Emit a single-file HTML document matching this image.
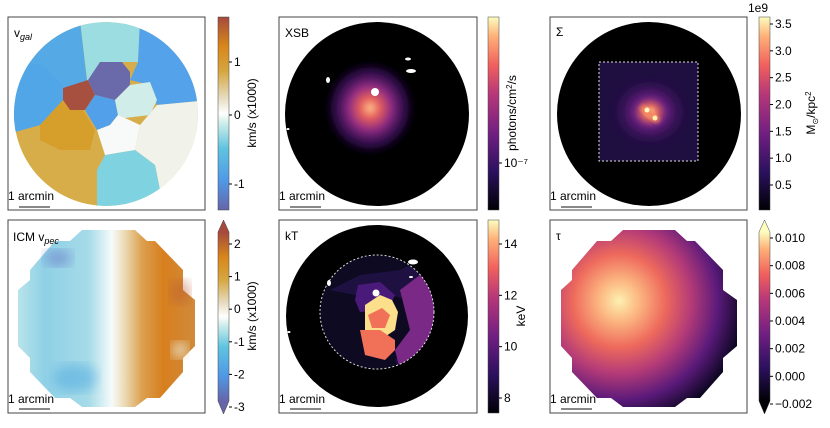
<!DOCTYPE html>
<html><head><meta charset="utf-8"><style>
body{margin:0;background:#fff;}
svg{display:block;font-family:"Liberation Sans","DejaVu Sans",sans-serif;}
text{font-size:12px;fill:#000;}
</style></head><body>
<svg id="fig" width="830" height="428" viewBox="0 0 830 428">
<defs>
<linearGradient id="cmVel" x1="0" y1="1" x2="0" y2="0">
<stop offset="0" stop-color="#6665a8"/><stop offset="0.15" stop-color="#4f98e6"/><stop offset="0.32" stop-color="#5fc4e0"/><stop offset="0.45" stop-color="#cfeeea"/><stop offset="0.5" stop-color="#ffffff"/><stop offset="0.58" stop-color="#e6dcc0"/><stop offset="0.72" stop-color="#d6a63e"/><stop offset="0.85" stop-color="#d8861a"/><stop offset="1" stop-color="#a54a3c"/></linearGradient>
<linearGradient id="cmMag" x1="0" y1="1" x2="0" y2="0">
<stop offset="0" stop-color="#000004"/><stop offset="0.2" stop-color="#2c115f"/><stop offset="0.4" stop-color="#721f81"/><stop offset="0.6" stop-color="#b73779"/><stop offset="0.75" stop-color="#f1605d"/><stop offset="0.9" stop-color="#feb078"/><stop offset="1" stop-color="#fcfdbf"/></linearGradient>
<radialGradient id="xsbG" cx="0.5" cy="0.5" r="0.5">
<stop offset="0" stop-color="#fdc08a"/><stop offset="0.2" stop-color="#e65f5c"/><stop offset="0.45" stop-color="#8c2a82"/><stop offset="0.75" stop-color="#3a1060" stop-opacity="0.7"/><stop offset="1" stop-color="#000" stop-opacity="0"/></radialGradient>
<radialGradient id="sigG" cx="0.5" cy="0.5" r="0.5">
<stop offset="0" stop-color="#fff2b0"/><stop offset="0.15" stop-color="#f0705a"/><stop offset="0.4" stop-color="#6a1f80"/><stop offset="1" stop-color="#2a0f50" stop-opacity="0"/></radialGradient>
<radialGradient id="tauG" cx="0.33" cy="0.4" r="0.75">
<stop offset="0" stop-color="#fdf0b0"/><stop offset="0.15" stop-color="#fcb882"/><stop offset="0.35" stop-color="#ee6a5c"/><stop offset="0.55" stop-color="#b33a78"/><stop offset="0.75" stop-color="#5a1a7a"/><stop offset="0.95" stop-color="#0b0620"/></radialGradient>
<linearGradient id="icmG" x1="0" y1="0" x2="1" y2="0">
<stop offset="0" stop-color="#b8e4ea"/><stop offset="0.15" stop-color="#8fd0e6"/><stop offset="0.4" stop-color="#a6dbe8"/><stop offset="0.53" stop-color="#f5fbfb"/><stop offset="0.6" stop-color="#ecdcb8"/><stop offset="0.7" stop-color="#dca050"/><stop offset="0.82" stop-color="#d77f1e"/><stop offset="1" stop-color="#d08a3a"/></linearGradient>
<clipPath id="c1"><circle cx="106" cy="114" r="92"/></clipPath>
<clipPath id="c5"><circle cx="377" cy="312" r="57"/></clipPath>
<filter id="bl"><feGaussianBlur stdDeviation="6"/></filter>
<filter id="bl2"><feGaussianBlur stdDeviation="2"/></filter>
</defs>

<g>
<rect x="8" y="17" width="197" height="193" fill="#fff" stroke="#444"/>
<g clip-path="url(#c1)">
<circle cx="106" cy="114" r="92" fill="#d7ad4a"/>
<polygon points="0,0 80,20 88,90 63,100 40,125 15,132 0,132" fill="#55aae6"/>
<polygon points="0,60 43,65 62,85 63,100 40,125 15,132 0,132" fill="#50a6e6"/>
<polygon points="80,20 140,20 138,62 122,62 100,62 88,88" fill="#9bdde0"/>
<polygon points="138,62 140,20 210,20 210,100 157,105 150,85 130,80" fill="#53a2ea"/>
<polygon points="157,105 210,100 210,210 160,190 155,165 135,150 140,125" fill="#f1f2ea"/>
<polygon points="105,155 135,150 155,165 160,190 150,210 97,210 97,170" fill="#7fd3e0"/>
<polygon points="40,125 63,100 83,110 95,130 90,150 60,150 40,140" fill="#d69f2c"/>
<polygon points="63,88 88,80 95,95 85,110 70,110 63,100" fill="#a85040"/>
<polygon points="88,80 100,62 122,62 130,72 130,85 115,100 95,95" fill="#6a6aaa"/>
<polygon points="85,110 95,95 115,100 118,115 110,125 97,130" fill="#52a0ea"/>
<polygon points="115,100 130,85 150,82 157,100 150,115 125,118 118,115" fill="#d1ede9"/>
<polygon points="97,130 110,125 118,115 125,118 140,125 135,150 105,155" fill="#f8faf9"/>
</g>
<text x="14" y="37" font-size="13">v<tspan font-size="9" font-style="italic" dy="3">gal</tspan></text>
</g>

<g>
<rect x="279" y="17" width="198" height="193" fill="#fff" stroke="#444"/>
<circle cx="377" cy="114" r="92" fill="#000"/>
<ellipse cx="370" cy="108" rx="48" ry="50" fill="url(#xsbG)" filter="url(#bl2)"/>
<ellipse cx="375" cy="92" rx="4" ry="4" fill="#fff"/>
<ellipse cx="411" cy="71" rx="5" ry="2" fill="#fff"/>
<ellipse cx="408" cy="59" rx="3" ry="1.5" fill="#fff"/>
<ellipse cx="328" cy="80" rx="2" ry="3" fill="#fff"/>
<ellipse cx="288" cy="129" rx="1.5" ry="1" fill="#fff"/>
<text x="285" y="37" font-size="13">XSB</text>
</g>

<g>
<rect x="550" y="17" width="197" height="193" fill="#fff" stroke="#444"/>
<circle cx="649" cy="114" r="92" fill="#000"/>
<rect x="599" y="62" width="99" height="99" fill="#1f0e40"/>
<ellipse cx="650" cy="112" rx="40" ry="36" fill="url(#sigG)" filter="url(#bl2)"/>
<ellipse cx="650" cy="114" rx="12" ry="4" transform="rotate(40 650 114)" fill="#f58860" filter="url(#bl2)"/>
<circle cx="647" cy="110" r="2.5" fill="#fff6c0"/><circle cx="655" cy="118" r="2.5" fill="#fff0b0"/>
<rect x="599" y="62" width="99" height="99" fill="none" stroke="#ddd" stroke-dasharray="2,2"/>
<text x="556" y="36" font-size="13">Σ</text>
</g>

<g>
<rect x="8" y="220" width="197" height="193" fill="#fff" stroke="#444"/>
<polygon points="82,230 135,230 147,241 155,241 183,270 183,290 195,300 195,346 183,358 183,372 160,398 147,398 135,407 82,407 70,398 55,398 30,372 30,358 18,346 18,290 30,280 30,270 55,241 70,241" fill="url(#icmG)"/>
<ellipse cx="58" cy="258" rx="14" ry="8" fill="#6a78c8" opacity="0.6" filter="url(#bl)"/>
<ellipse cx="75" cy="378" rx="22" ry="14" fill="#4aa6e0" opacity="0.5" filter="url(#bl)"/>
<ellipse cx="180" cy="292" rx="10" ry="12" fill="#b95a30" opacity="0.5" filter="url(#bl)"/>
<ellipse cx="180" cy="350" rx="8" ry="8" fill="#e8dcc0" filter="url(#bl)"/>
<text x="13" y="241" font-size="13">ICM v<tspan font-size="9" font-style="italic" dy="3">pec</tspan></text>
</g>

<g>
<rect x="279" y="220" width="198" height="193" fill="#fff" stroke="#444"/>
<circle cx="377" cy="316" r="91" fill="#000"/>
<g clip-path="url(#c5)">
<circle cx="377" cy="312" r="57" fill="#0d0a22"/>
<polygon points="330,290 360,275 400,270 420,260 440,280 440,370 400,370 395,360 415,340 410,300 390,295 355,295" fill="#1e1040"/>
<polygon points="400,290 420,275 440,280 440,370 400,370 395,350 410,330" fill="#7a2a86"/>
<polygon points="358,285 380,282 395,295 388,310 360,312 355,300" fill="#4a1a7a"/>
<polygon points="365,305 380,295 392,300 398,312 395,330 380,340 365,330" fill="#fcdf8a"/>
<polygon points="360,330 380,330 395,340 395,350 385,360 365,355" fill="#f07058"/>
<polygon points="368,315 382,308 390,315 385,328 372,328" fill="#f07058"/>
</g>
<circle cx="377" cy="312" r="57" fill="none" stroke="#ddd" stroke-dasharray="2,2"/>
<circle cx="376" cy="293" r="3.5" fill="#fff"/>
<ellipse cx="413" cy="262" rx="5" ry="2.5" fill="#fff"/><ellipse cx="411" cy="277" rx="2" ry="1" fill="#fff"/>
<ellipse cx="329" cy="283" rx="2" ry="3" fill="#fff"/><ellipse cx="289" cy="332" rx="1.5" ry="1" fill="#fff"/>
<text x="285" y="240" font-size="13">kT</text>
</g>

<g>
<rect x="550" y="220" width="197" height="193" fill="#fff" stroke="#444"/>
<polygon points="623,230 675,230 687,241 695,241 723,270 723,290 737,300 737,346 723,358 723,372 700,398 687,398 675,407 623,407 611,398 597,398 572,372 572,358 561,346 561,290 572,280 572,270 597,241 611,241" fill="url(#tauG)"/>
<text x="556" y="240" font-size="13">τ</text>
</g>

<g font-size="12">
<text x="8" y="200">1 arcmin</text><line x1="19" y1="207" x2="50" y2="207" stroke="#888" stroke-width="2"/>
<text x="279" y="200">1 arcmin</text><line x1="290" y1="207" x2="321" y2="207" stroke="#888" stroke-width="2"/>
<text x="550" y="200">1 arcmin</text><line x1="561" y1="207" x2="592" y2="207" stroke="#888" stroke-width="2"/>
<text x="8" y="403">1 arcmin</text><line x1="19" y1="409" x2="50" y2="409" stroke="#888" stroke-width="2"/>
<text x="279" y="403">1 arcmin</text><line x1="290" y1="409" x2="321" y2="409" stroke="#888" stroke-width="2"/>
<text x="550" y="403">1 arcmin</text><line x1="561" y1="409" x2="592" y2="409" stroke="#888" stroke-width="2"/>
</g>

<rect x="218" y="17" width="11" height="193" fill="url(#cmVel)" stroke="#444" stroke-width="0.5"/>
<rect x="488" y="17" width="11" height="193" fill="url(#cmMag)" stroke="#444" stroke-width="0.5"/>
<rect x="759" y="17" width="11" height="193" fill="url(#cmMag)" stroke="#444" stroke-width="0.5"/>
<g>
<rect x="218" y="232" width="11" height="169" fill="url(#cmVel)"/>
<polygon points="218,232 223.5,220 229,232" fill="#a54a3c"/><polygon points="218,401 223.5,414 229,401" fill="#6665a8"/>
<polygon points="218,232 223.5,220 229,232 229,401 223.5,414 218,401" fill="none" stroke="#444" stroke-width="0.5"/>
</g>
<rect x="488" y="220" width="11" height="193" fill="url(#cmMag)" stroke="#444" stroke-width="0.5"/>
<g>
<rect x="759" y="232" width="11" height="169" fill="url(#cmMag)"/>
<polygon points="759,232 764.5,220 770,232" fill="#fcfdbf"/><polygon points="759,401 764.5,414 770,401" fill="#000004"/>
<polygon points="759,232 764.5,220 770,232 770,401 764.5,414 759,401" fill="none" stroke="#444" stroke-width="0.5"/>
</g>
<g id="ticks"></g>
<text transform="translate(256 113) rotate(-90)" text-anchor="middle">km/s (x1000)</text>
<text transform="translate(516 113) rotate(-90)" text-anchor="middle">photons/cm<tspan dy="-4" font-size="8">2</tspan><tspan dy="4">/s</tspan></text>
<text transform="translate(815 113) rotate(-90)" text-anchor="middle">M<tspan font-size="8" dy="3">⊙</tspan><tspan dy="-3">/kpc</tspan><tspan dy="-4" font-size="8">2</tspan></text>
<text x="748" y="12">1e9</text>
<text transform="translate(256 316) rotate(-90)" text-anchor="middle">km/s (x1000)</text>
<text transform="translate(525 316) rotate(-90)" text-anchor="middle">keV</text>
</svg>
<script>
const vgalTicks=["1","0","-1"], vgalY=[62,115,184];
const xsbTicks=["10\u207B\u2077"], xsbY=[163];
const sigmaTicks=["3.5","3.0","2.5","2.0","1.5","1.0","0.5"], sigmaVals=[3.5,3.0,2.5,2.0,1.5,1.0,0.5];
const icmTicks=["2","1","0","-1","-2","-3"], icmVals=[2,1,0,-1,-2,-3];
const ktTicks=["14","12","10","8"], ktVals=[14,12,10,8];
const tauTicks=["0.010","0.008","0.006","0.004","0.002","0.000","\u22120.002"], tauVals=[0.010,0.008,0.006,0.004,0.002,0.000,-0.002];
const g=document.getElementById('ticks');
const NS='http://www.w3.org/2000/svg';
function lin(d0,d1,r0,r1){return v=>r0+(v-d0)/(d1-d0)*(r1-r0);}
function draw(x,labels,ys,name){
 labels.forEach((l,i)=>{
  const ln=document.createElementNS(NS,'line');
  ln.setAttribute('x1',x);ln.setAttribute('x2',x+3);ln.setAttribute('y1',ys[i]);ln.setAttribute('y2',ys[i]);ln.setAttribute('stroke','#000');
  
  
  g.appendChild(ln);
  const t=document.createElementNS(NS,'text');
  t.setAttribute('x',x+5);t.setAttribute('y',ys[i]+4);t.textContent=l;
  
  
  g.appendChild(t);
 });
}
draw(229,vgalTicks,vgalY,'vgal');
draw(499,xsbTicks,xsbY,'xsb');
const ySig=lin(0.5,3.5,185,24); draw(770,sigmaTicks,sigmaVals.map(ySig),'sigma');
const yIcm=lin(2,-3,244,407); draw(229,icmTicks,icmVals.map(yIcm),'icm');
const yKt=lin(14,8,244,398); draw(499,ktTicks,ktVals.map(yKt),'kt');
const yTau=lin(0.010,-0.002,238,404); draw(770,tauTicks,tauVals.map(yTau),'tau');
</script>
</body></html>
